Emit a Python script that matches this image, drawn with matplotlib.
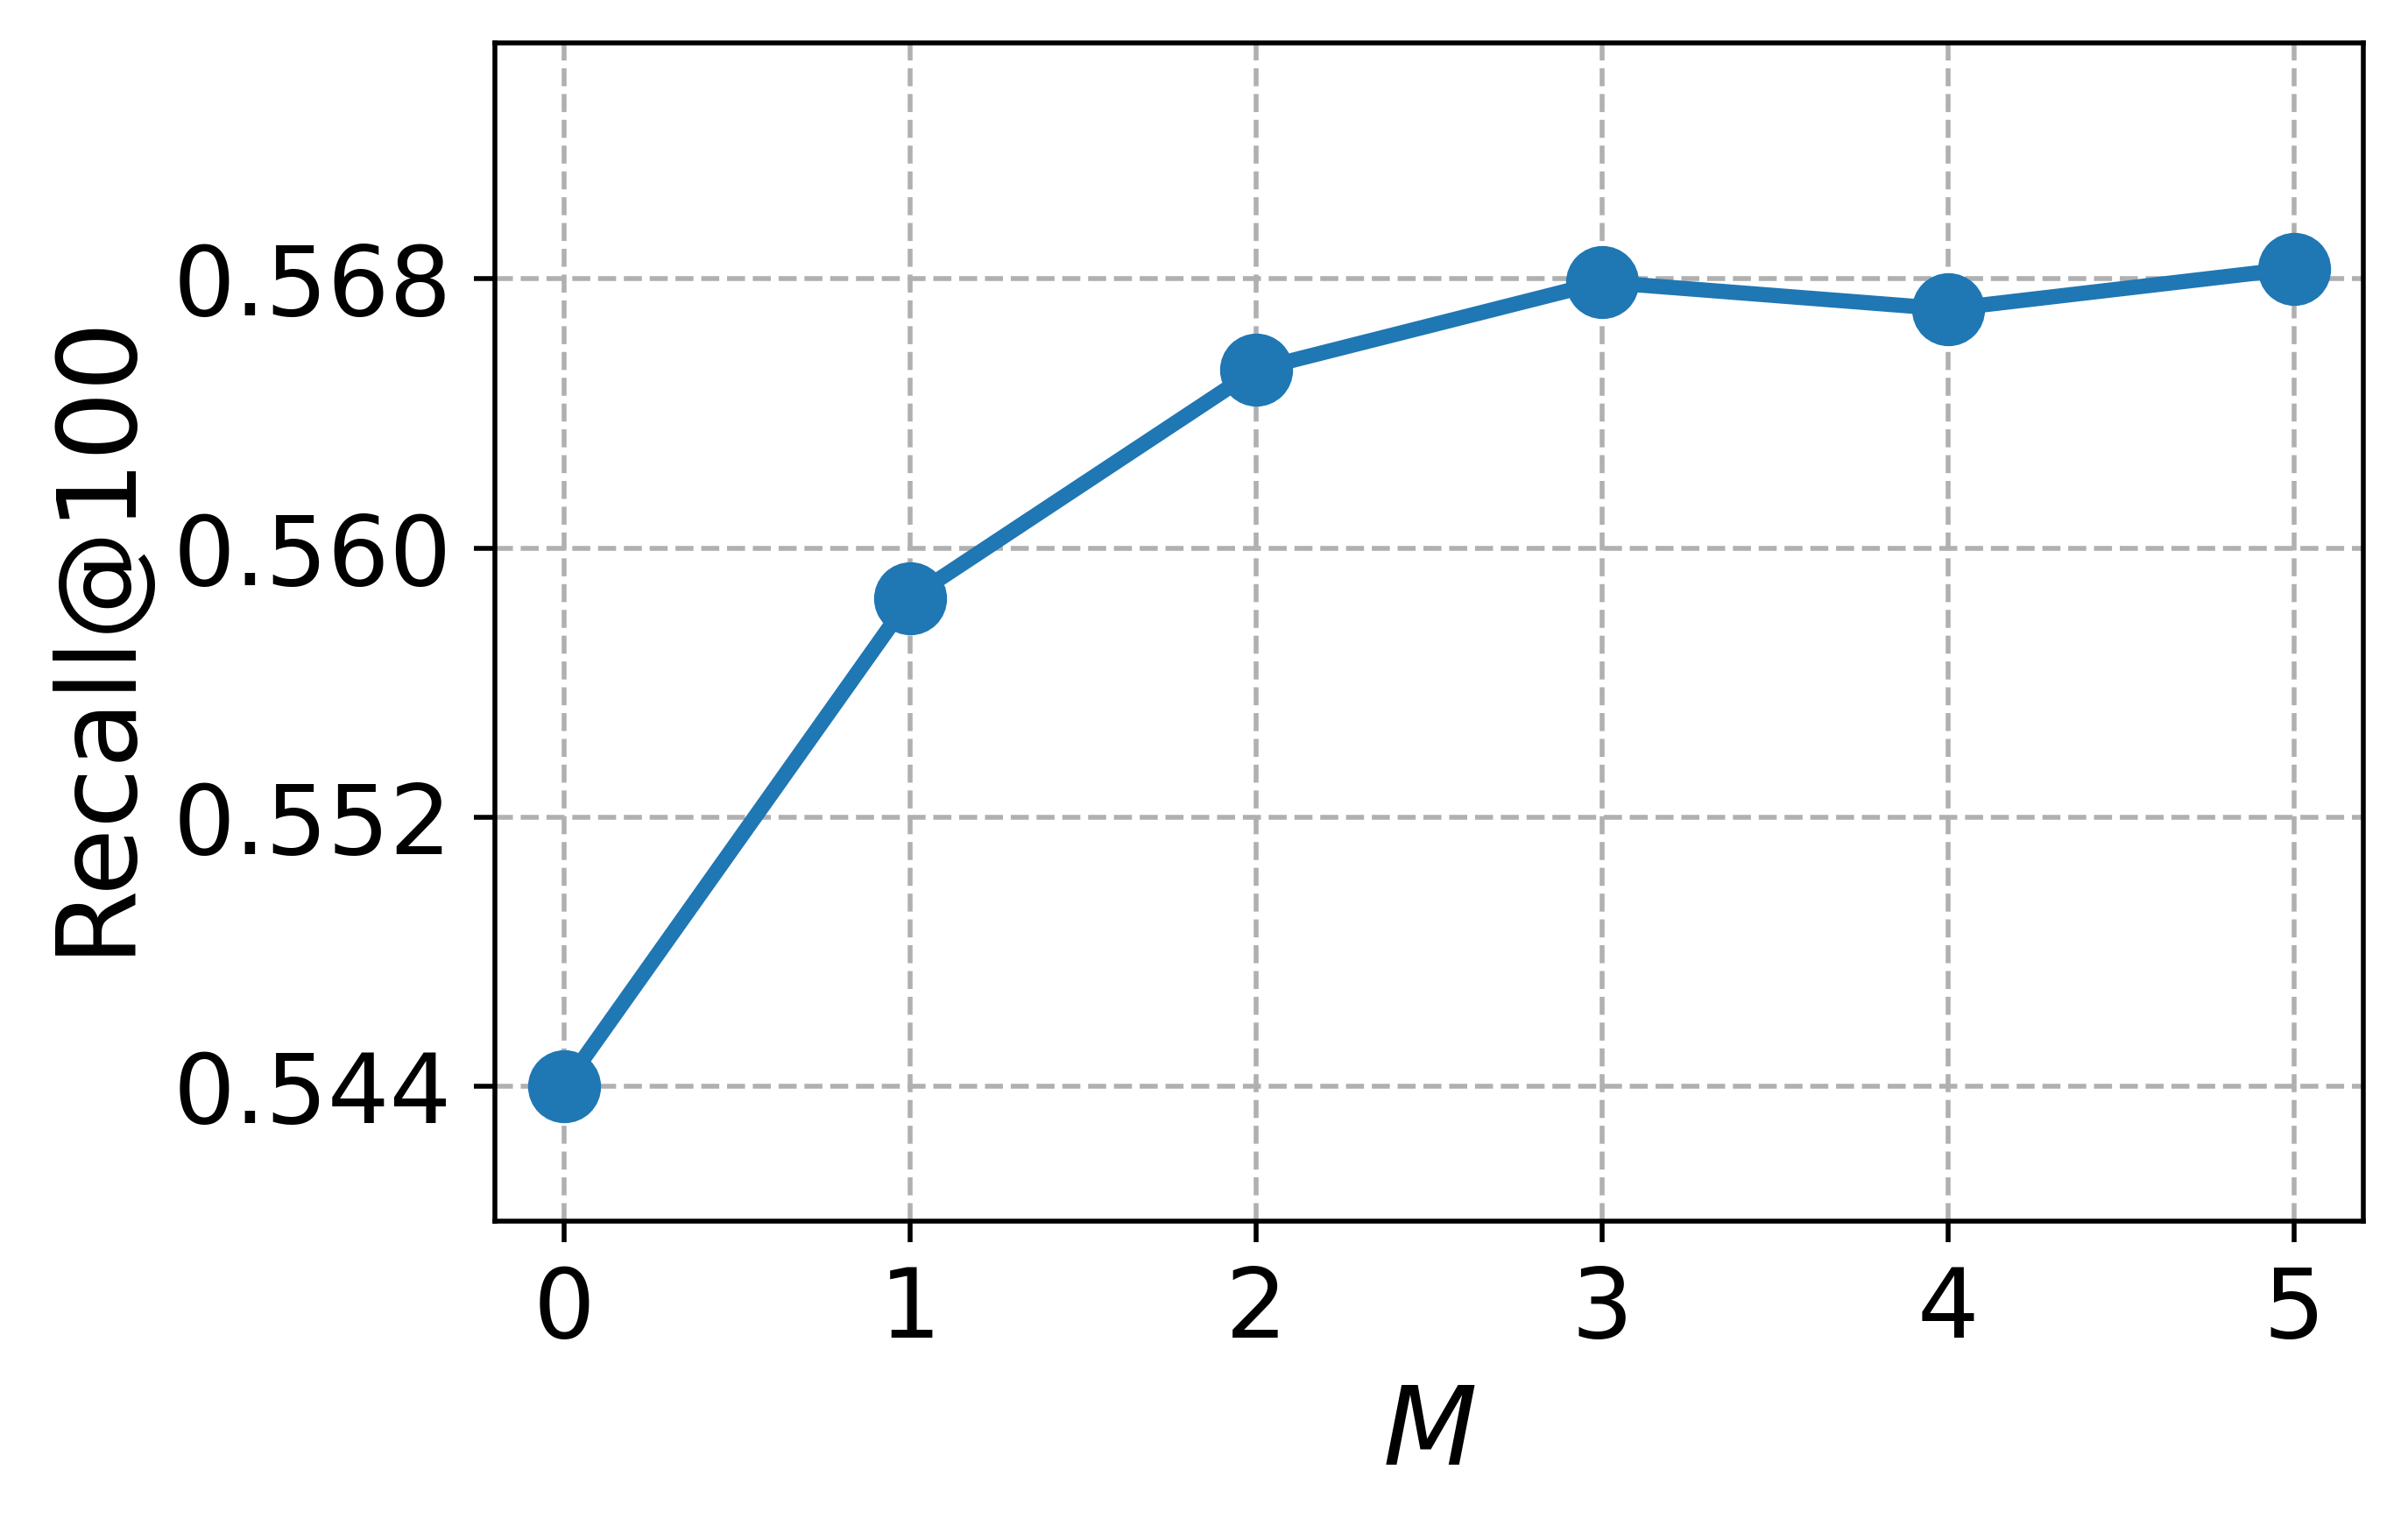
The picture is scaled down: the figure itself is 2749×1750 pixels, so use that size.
import matplotlib
matplotlib.use("Agg")
import matplotlib.pyplot as plt

M_VALUES = [0, 1, 2, 3, 4, 5]
RECALL   = [0.5440, 0.5585, 0.5653, 0.5679, 0.5671, 0.5683]
Y_TICKS  = [0.544, 0.552, 0.560, 0.568]


def main() -> None:
    fig, ax = plt.subplots(figsize=(5.498, 3.5), dpi=500)
    fig.subplots_adjust(left=0.2054, right=0.9815, bottom=0.2034, top=0.9719)

    ax.plot(M_VALUES, RECALL, color="#1f77b4", marker="o", lw=2.5, ms=11)
    ax.set_xlim(-0.2, 5.2)
    ax.set_ylim(0.540, 0.575)
    ax.set_xticks(M_VALUES)
    ax.set_yticks(Y_TICKS)
    ax.set_yticklabels([f"{v:.3f}" for v in Y_TICKS])
    ax.tick_params(labelsize=16)
    ax.set_xlabel("$M$", fontsize=18)
    ax.set_ylabel("Recall@100", fontsize=18)
    ax.grid(ls="--")

    fig.savefig("out.png", dpi=500)
    plt.close(fig)


if __name__ == "__main__":
    main()
